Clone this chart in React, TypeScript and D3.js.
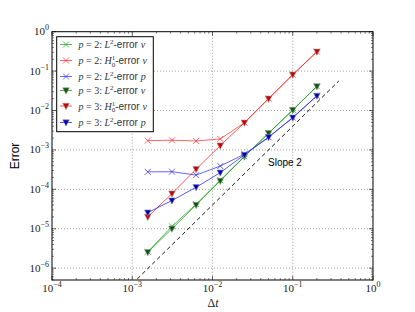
import React from "react";
import * as d3 from "d3";

const dt = [0.2, 0.1, 0.05, 0.025, 0.0125, 0.00625, 0.003125, 0.0015625];

const p2L2v = [0.041, 0.0103, 2.65e-3, 6.9e-4, 1.7e-4, 4.2e-5, 1.15e-5, 2.6e-6];
const p2H1v = [0.31, 0.081, 0.02, 4.9e-3, 1.9e-3, 1.69e-3, 1.76e-3, 1.72e-3];
const p2L2p = [0.0236, 6.6e-3, 2.1e-3, 7.8e-4, 3.9e-4, 2.3e-4, 2.8e-4, 2.77e-4];
const p3L2v = [0.041, 0.0103, 2.65e-3, 6.8e-4, 1.64e-4, 4.0e-5, 1.0e-5, 2.54e-6];
const p3H1v = [0.31, 0.081, 0.02, 4.9e-3, 1.29e-3, 3.24e-4, 7.8e-5, 2.0e-5];
const p3L2p = [0.0236, 6.6e-3, 2.1e-3, 7.5e-4, 2.65e-4, 1.13e-4, 5.2e-5, 2.57e-5];

const slopeRange = [0.001, 0.375];
const slopeC = 0.4;

const xTickExps = [-4, -3, -2, -1, 0];
const yTickExps = [-6, -5, -4, -3, -2, -1, 0];

type Series = {
  vals: number[];
  p: number;
  norm: "L2" | "H1";
  q: string;
  color: string;
  fill: string;
  marker: "x" | "v";
};

const series: Series[] = [
  { vals: p2L2v, p: 2, norm: "L2", q: "v", color: "#22aa22", fill: "#22aa22", marker: "x" },
  { vals: p2H1v, p: 2, norm: "H1", q: "v", color: "#ff3333", fill: "#ff3333", marker: "x" },
  { vals: p2L2p, p: 2, norm: "L2", q: "p", color: "#3333ff", fill: "#3333ff", marker: "x" },
  { vals: p3L2v, p: 3, norm: "L2", q: "v", color: "#119911", fill: "#0a5a0a", marker: "v" },
  { vals: p3H1v, p: 3, norm: "H1", q: "v", color: "#ff2222", fill: "#cc0000", marker: "v" },
  { vals: p3L2p, p: 3, norm: "L2", q: "p", color: "#2222ff", fill: "#0000bb", marker: "v" },
];

const L = 52, R = 373, T = 31.7, B = 280;
const serif = "'Liberation Serif', 'DejaVu Serif', serif";
const sans = "'Liberation Sans', Arial, sans-serif";

function Marker({ kind, x, y, color, fill }: { kind: string; x: number; y: number; color: string; fill: string }) {
  if (kind === "x") {
    const s = 3;
    return (
      <path d={`M${x - s},${y - s}L${x + s},${y + s}M${x - s},${y + s}L${x + s},${y - s}`} stroke={color} strokeWidth={1} strokeOpacity={0.75} />
    );
  }
  const s = 3.3;
  return (
    <path d={`M${x - s},${y - s * 0.8}L${x + s},${y - s * 0.8}L${x},${y + s * 1.1}Z`} fill={fill} stroke="#999" strokeWidth={0.6} />
  );
}

function LegendLabel({ s, x, y }: { s: Series; x: number; y: number }) {
  const fs = 10;
  return (
    <text x={x} y={y} fontSize={fs} fill="#333">
      <tspan fontFamily={serif} fontStyle="italic">p</tspan>
      <tspan fontFamily={serif}>{` = ${s.p}: `}</tspan>
      {s.norm === "L2" ? (
        <>
          <tspan fontFamily={serif} fontStyle="italic">L</tspan>
          <tspan fontFamily={serif} fontSize={7} dy={-4}>2</tspan>
          <tspan fontFamily={sans} dy={4}>-error </tspan>
        </>
      ) : (
        <>
          <tspan fontFamily={serif} fontStyle="italic">H</tspan>
          <tspan fontFamily={serif} fontSize={7} dy={-4}>1</tspan>
          <tspan fontFamily={serif} fontSize={7} dx={-3.5} dy={6.5}>0</tspan>
          <tspan fontFamily={sans} dy={-2.5}>-error </tspan>
        </>
      )}
      <tspan fontFamily={serif} fontStyle="italic">{s.q}</tspan>
    </text>
  );
}

export default function App() {
  const x = d3.scaleLog().domain([1e-4, 1]).range([L, R]);
  const y = d3.scaleLog().domain([5e-7, 1]).range([B, T]);

  const line = d3
    .line<number>()
    .x((_, i) => x(dt[i]))
    .y((v) => y(v));

  const minorX: number[] = [];
  for (let e = -4; e < 0; e++) for (let k = 2; k <= 9; k++) minorX.push(k * Math.pow(10, e));
  const minorY: number[] = [];
  for (let e = -7; e < 0; e++)
    for (let k = 2; k <= 9; k++) {
      const v = k * Math.pow(10, e);
      if (v >= 5e-7 && v <= 1) minorY.push(v);
    }

  const slopeData = slopeRange;
  const slopePath = d3
    .line<number>()
    .x((d) => x(d))
    .y((d) => y(slopeC * d * d))(slopeData);

  const legendYs = [44.5, 60.5, 76.5, 90.5, 106, 122.5];

  return (
    <svg width={415} height={312} style={{ position: "absolute", left: 0, top: 0, background: "#fff" }}>
      <defs>
        <clipPath id="plotclip">
          <rect x={L} y={T} width={R - L} height={B - T} />
        </clipPath>
      </defs>
      <rect x={0} y={0} width={415} height={312} fill="#fff" />
      {/* grid */}
      {xTickExps.slice(1, -1).map((e) => (
        <line key={"gx" + e} x1={x(Math.pow(10, e))} x2={x(Math.pow(10, e))} y1={T} y2={B} stroke="#888" strokeWidth={0.8} strokeDasharray="1,2" />
      ))}
      {yTickExps.slice(0, -1).map((e) => (
        <line key={"gy" + e} x1={L} x2={R} y1={y(Math.pow(10, e))} y2={y(Math.pow(10, e))} stroke="#888" strokeWidth={0.8} strokeDasharray="1,2" />
      ))}
      {/* ticks */}
      {xTickExps.map((e) => {
        const px = x(Math.pow(10, e));
        return (
          <g key={"tx" + e}>
            <line x1={px} x2={px} y1={B} y2={B - 4} stroke="#000" strokeWidth={0.6} />
            <line x1={px} x2={px} y1={T} y2={T + 4} stroke="#000" strokeWidth={0.6} />
          </g>
        );
      })}
      {minorX.map((v, i) => {
        const px = x(v);
        return (
          <g key={"mx" + i}>
            <line x1={px} x2={px} y1={B} y2={B - 2} stroke="#000" strokeWidth={0.5} />
            <line x1={px} x2={px} y1={T} y2={T + 2} stroke="#000" strokeWidth={0.5} />
          </g>
        );
      })}
      {yTickExps.map((e) => {
        const py = y(Math.pow(10, e));
        return (
          <g key={"ty" + e}>
            <line x1={L} x2={L + 4} y1={py} y2={py} stroke="#000" strokeWidth={0.6} />
            <line x1={R} x2={R - 4} y1={py} y2={py} stroke="#000" strokeWidth={0.6} />
          </g>
        );
      })}
      {minorY.map((v, i) => {
        const py = y(v);
        return (
          <g key={"my" + i}>
            <line x1={L} x2={L + 2} y1={py} y2={py} stroke="#000" strokeWidth={0.5} />
            <line x1={R} x2={R - 2} y1={py} y2={py} stroke="#000" strokeWidth={0.5} />
          </g>
        );
      })}
      {/* slope line */}
      <g clipPath="url(#plotclip)">
        <path d={slopePath || ""} fill="none" stroke="#000" strokeWidth={0.9} strokeDasharray="4,3" />
      </g>
      {/* series */}
      {series.map((s, si) => (
        <g key={"s" + si}>
          <path d={line(s.vals) || ""} fill="none" stroke={s.color} strokeOpacity={0.75} strokeWidth={1} />
          {s.vals.map((v, i) => (
            <Marker key={i} kind={s.marker} x={x(dt[i])} y={y(v)} color={s.color} fill={s.fill} />
          ))}
        </g>
      ))}
      {/* frame */}
      <rect x={L} y={T} width={R - L} height={B - T} fill="none" stroke="#000" strokeWidth={1} />
      {/* tick labels */}
      {xTickExps.map((e) => (
        <text key={"lx" + e} x={x(Math.pow(10, e))} y={292} textAnchor="middle" fontFamily={serif} fontSize={11} fill="#222">
          <tspan>10</tspan>
          <tspan fontSize={8} dy={-5}>{e === 0 ? "0" : "\u2212" + Math.abs(e)}</tspan>
        </text>
      ))}
      {yTickExps.map((e) => (
        <text key={"ly" + e} x={49} y={y(Math.pow(10, e)) + 3.5} textAnchor="end" fontFamily={serif} fontSize={11} fill="#222">
          <tspan>10</tspan>
          <tspan fontSize={8} dy={-5}>{e === 0 ? "0" : "\u2212" + Math.abs(e)}</tspan>
        </text>
      ))}
      {/* axis labels */}
      <text x={213} y={307} textAnchor="middle" fontFamily={serif} fontSize={12} fill="#222">
        <tspan>Δ</tspan>
        <tspan fontStyle="italic">t</tspan>
      </text>
      <text transform={`translate(19,156) rotate(-90)`} textAnchor="middle" fontFamily={sans} fontSize={12} fill="#000">
        Error
      </text>
      <text x={268} y={166} fontFamily={sans} fontSize={10} fill="#000">
        Slope 2
      </text>
      {/* legend */}
      <rect x={56.7} y={36.7} width={96.6} height={95} fill="#fff" stroke="#000" strokeWidth={1} />
      {series.map((s, i) => {
        const ly = legendYs[i];
        return (
          <g key={"lg" + i}>
            <line x1={60} x2={72} y1={ly} y2={ly} stroke={s.color} strokeOpacity={0.75} strokeWidth={1} />
            <Marker kind={s.marker} x={66} y={ly} color={s.color} fill={s.fill} />
            <LegendLabel s={s} x={78.5} y={ly + 3.5} />
          </g>
        );
      })}
    </svg>
  );
}
